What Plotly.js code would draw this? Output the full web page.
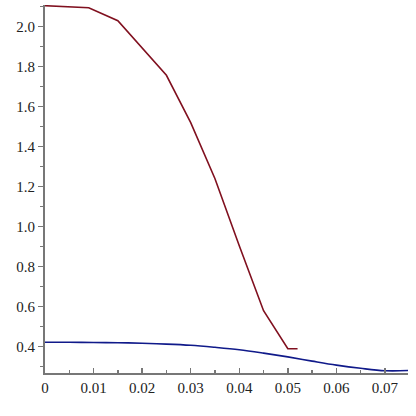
<!DOCTYPE html>
<html>
<head>
<meta charset="utf-8">
<script src="https://cdn.plot.ly/plotly-3.0.1.min.js"></script>
<style>html,body{margin:0;padding:0;background:#fff;}#chart{width:416px;height:416px;}</style>
</head>
<body>
<div id="chart"></div>
<script>
const redX = [0, 0.009, 0.015, 0.025, 0.03, 0.035, 0.04, 0.045, 0.05, 0.052];
const redY = [2.105, 2.095, 2.03, 1.757, 1.52, 1.24, 0.905, 0.58, 0.39, 0.39];
const blueX = [0, 0.005, 0.01, 0.015, 0.02, 0.025, 0.03, 0.035, 0.04, 0.045, 0.05, 0.055, 0.06, 0.065, 0.07, 0.075];
const blueY = [0.4225, 0.422, 0.421, 0.42, 0.417, 0.413, 0.407, 0.397, 0.385, 0.368, 0.349, 0.328, 0.308, 0.292, 0.28, 0.281];
const xTicks = [0, 0.01, 0.02, 0.03, 0.04, 0.05, 0.06, 0.07];
const xTickText = ["0", "0.01", "0.02", "0.03", "0.04", "0.05", "0.06", "0.07"];
const yTicks = [0.4, 0.6, 0.8, 1.0, 1.2, 1.4, 1.6, 1.8, 2.0];
const yTickText = ["0.4", "0.6", "0.8", "1.0", "1.2", "1.4", "1.6", "1.8", "2.0"];

const data = [
  {x: redX, y: redY, mode: 'lines', line: {color: '#80101f', width: 1.6}, hoverinfo: 'skip'},
  {x: blueX, y: blueY, mode: 'lines', line: {color: '#101a8a', width: 1.6, shape: 'spline'}, hoverinfo: 'skip'}
];
const serif = 'Liberation Serif';
const axisFont = {family: serif, size: 15, color: '#222'};
const layout = {
  width: 416, height: 416,
  font: {family: serif, size: 15, color: '#222'},
  margin: {l: 45, r: 8, t: 5, b: 43, pad: 0},
  paper_bgcolor: '#fff', plot_bgcolor: '#fff',
  showlegend: false,
  xaxis: {
    range: [0, 0.07474], tickmode: 'array', tickvals: xTicks, ticktext: xTickText,
    showgrid: false, zeroline: false, showline: true, linecolor: '#777', linewidth: 2,
    ticks: 'inside', ticklen: 5, tickwidth: 1.5, tickcolor: '#777',
    minor: {dtick: 0.005, tick0: 0, ticks: 'inside', ticklen: 3, tickwidth: 1.5, tickcolor: '#777', showgrid: false},
    tickfont: axisFont, fixedrange: true
  },
  yaxis: {
    range: [0.2685, 2.1085], tickmode: 'array', tickvals: yTicks, ticktext: yTickText,
    showgrid: false, zeroline: false, showline: true, linecolor: '#777', linewidth: 2,
    ticks: 'outside', ticklen: 5, tickwidth: 1.5, tickcolor: '#777',
    minor: {dtick: 0.1, tick0: 0, ticks: 'outside', ticklen: 3, tickwidth: 1.5, tickcolor: '#777', showgrid: false},
    tickfont: axisFont, fixedrange: true
  }
};
Plotly.newPlot('chart', data, layout, {staticPlot: true, displayModeBar: false});
</script>
</body>
</html>
